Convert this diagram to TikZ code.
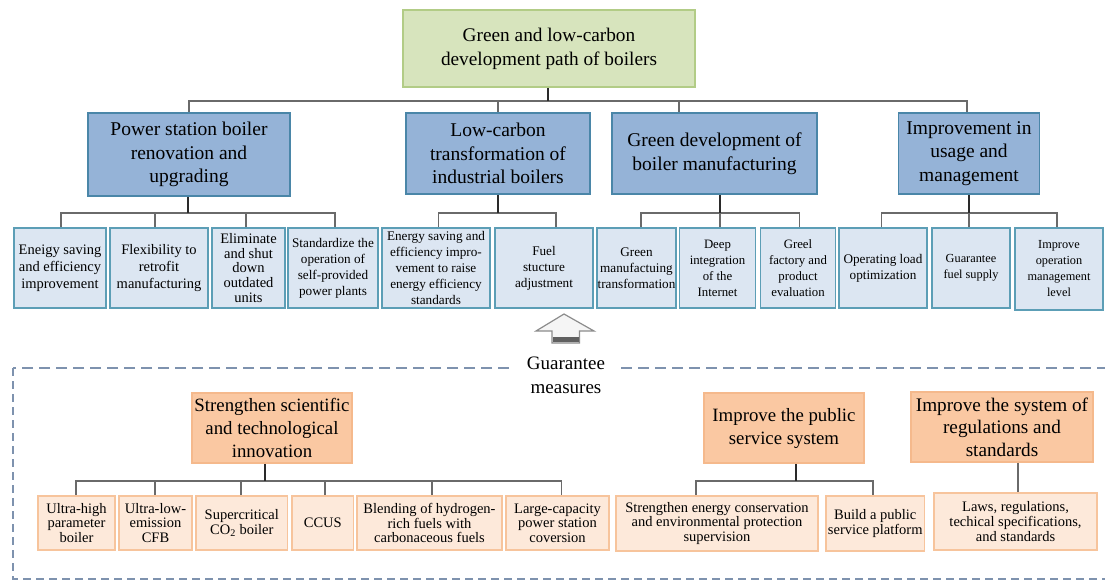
\documentclass[tikz,border=0pt]{standalone}
\usepackage{fontspec}
\setmainfont{Liberation Serif}
\usetikzlibrary{calc}
\definecolor{gfill}{HTML}{D7E4BD}
\definecolor{gdraw}{HTML}{B2CC86}
\definecolor{lonefill}{HTML}{95B3D7}
\definecolor{lonedraw}{HTML}{4A86A8}
\definecolor{ltwofill}{HTML}{DCE6F2}
\definecolor{ltwodraw}{HTML}{5C9EB6}
\definecolor{ofill}{HTML}{FAC8A2}
\definecolor{odraw}{HTML}{F5B98C}
\definecolor{cfill}{HTML}{FDE9DA}
\definecolor{cdraw}{HTML}{F7C49C}
\definecolor{dashc}{HTML}{7E92AE}
\definecolor{connc}{HTML}{6A6A6A}
\definecolor{stubc}{HTML}{2A2A2A}
\newcommand{\myfs}[2]{\fontsize{#1pt}{#2pt}\selectfont}
\tikzset{
 box/.style={draw, line width=1.6pt, align=center, inner sep=0pt, text=black},
 wh/.style 2 args={minimum width=#1pt, minimum height=#2pt},
 topbox/.style={box, fill=gfill, draw=gdraw, font=\myfs{19.3}{24}},
 lone/.style={box, fill=lonefill, draw=lonedraw, font=\myfs{19.5}{23.5}},
 ltwo/.style={box, fill=ltwofill, draw=ltwodraw, line width=1.9pt, font=\myfs{13.2}{16}},
 ohead/.style={box, fill=ofill, draw=odraw, font=\myfs{18.8}{23}},
 ochild/.style={box, fill=cfill, draw=cdraw, font=\myfs{14.5}{14.7}},
 conn/.style={draw=connc, line width=1.6pt},
 stub/.style={draw=stubc, line width=2.2pt},
 dshtop/.style={draw=dashc, line width=2.4pt, dash pattern=on 11pt off 6pt},
 dshside/.style={draw=dashc, line width=2.4pt, dash pattern=on 8pt off 5pt},
}
\begin{document}
\begin{tikzpicture}[x=1pt,y=-1pt]
\useasboundingbox[fill=white] (0,0) rectangle (1105,581);

% top
\node[topbox, wh={292}{77}] (top) at (549,48.5) {Green and low-carbon\\development path of boilers};

% level 1
\node[lone, wh={202}{83}] (A) at (189,154.5) {Power station boiler\\renovation and\\upgrading};
\node[lone, wh={184}{81}] (B) at (498,153.5) {Low-carbon\\transformation of\\industrial boilers};
\node[lone, wh={205}{81}] (C) at (714.5,153.5) {Green development of\\boiler manufacturing};
\node[lone, wh={141}{81}] (D) at (969,153.5) {Improvement in\\usage and\\management};

% level 2
\node[ltwo, wh={92}{80}, font=\myfs{14.5}{17}] (A1) at (60,268) {Eneigy saving\\and efficiency\\improvement};
\node[ltwo, wh={98}{80}, font=\myfs{14.5}{17}] (A2) at (159,268) {Flexibility to\\retrofit\\manufacturing};
\node[ltwo, wh={73}{80}, font=\myfs{14.5}{14.6}] (A3) at (248.5,268) {Eliminate\\and shut\\down\\outdated\\units};
\node[ltwo, wh={90.5}{80}] (A4) at (333,268) {Standardize the\\operation of\\self-provided\\power plants};
\node[ltwo, wh={108}{80}] (B1) at (436,268) {Energy saving and\\efficiency impro-\\vement to raise\\energy efficiency\\standards};
\node[ltwo, wh={98}{80}] (B2) at (544,268) {Fuel\\stucture\\adjustment};
\node[ltwo, wh={79}{80}] (C1) at (636.5,268) {Green\\manufactuing\\transformation};
\node[ltwo, wh={76}{80}, font=\myfs{12.8}{16}] (C2) at (717.5,268) {Deep\\integration\\of the\\Internet};
\node[ltwo, wh={75}{80}, font=\myfs{12.8}{16}] (C3) at (798,268) {Greel\\factory and\\product\\evaluation};
\node[ltwo, wh={88}{80}] (D1) at (883,268) {Operating load\\optimization};
\node[ltwo, wh={78}{80}, font=\myfs{12.3}{16}] (D2) at (971,268) {Guarantee\\fuel supply};
\node[ltwo, wh={88}{82}, font=\myfs{12.3}{16}] (D3) at (1059,269) {Improve\\operation\\management\\level};

% connectors top -> level 1
\coordinate (tbus) at ($(top.south)+(-1,13)$);
\draw[conn] (tbus) -| (A.north);
\draw[conn] (tbus) -| (B.north);
\draw[conn] (tbus) -| ($(C.north west)+(68,0)$);
\draw[conn] (tbus) -| ($(D.north)+(-2,0)$);
\draw[stub] (top.south -| tbus) -- (tbus);

% A group
\coordinate (Abus) at ($(A.south)+(-1,16)$);
\draw[conn] (Abus) -| ($(A1.north)+(1,0)$);
\draw[conn] (Abus) -| ($(A2.north)+(-4,0)$);
\draw[conn] (Abus) -| ($(A3.north)+(-2.5,0)$);
\draw[conn] (Abus) -| ($(A4.north)+(2,0)$);
\draw[stub] (A.south -| Abus) -- (Abus);

% B group
\coordinate (Bbus) at ($(B.south)+(0,18)$);
\draw[conn] (Bbus) -| ($(B1.north)+(2.6,0)$);
\draw[conn] (Bbus) -| ($(B2.north)+(12,0)$);
\draw[stub] (B.south -| Bbus) -- (Bbus);

% C group
\coordinate (Cbus) at ($(C.south)+(5.5,18)$);
\draw[conn] (Cbus) -| ($(C1.north)+(4.5,0)$);
\draw[conn] (Cbus) -| ($(C2.north)+(2.5,0)$);
\draw[conn] (Cbus) -| ($(C3.north)+(1.5,0)$);
\draw[stub] (C.south -| Cbus) -- (Cbus);

% D group
\coordinate (Dbus) at ($(D.south)+(0,18)$);
\draw[conn] (Dbus) -| ($(D1.north)+(-1.4,0)$);
\draw[conn] (Dbus) -| ($(D2.north)+(-2,0)$);
\draw[conn] (Dbus) -| ($(D3.north)+(-2,0)$);
\draw[stub] (D.south -| Dbus) -- (Dbus);

% guarantee arrow and label
\node[font=\myfs{19}{24}, align=center, inner sep=0pt] (gm) at (566,375) {Guarantee\\measures};
\draw[draw=gray!90, fill=gray!8, line width=1.2pt, line join=miter]
  (564,314) -- (594,331) -- (579.5,331) -- (579.5,343) -- (552,343) -- (552,331) -- (536,331) -- cycle;
\fill[gray!75!black] (552.6,337) rectangle (578.9,342.4);

% dashed frame
\draw[dshtop] (509,368) -- (13,368);
\draw[dshtop] (621,368) -- (1105,368);
\draw[dshside] (13,368) -- (13,579) -- (1105,579);

% guarantee headers
\node[ohead, wh={160}{70}] (S1) at (272,428) {Strengthen scientific\\and technological\\innovation};
\node[ohead, wh={160}{70}] (S2) at (784,428) {Improve the public\\service system};
\node[ohead, wh={182}{70}, font=\myfs{19.2}{22.5}] (S3) at (1002,427) {Improve the system of\\regulations and\\standards};

% guarantee children
\node[ochild, wh={77}{54}] (c1) at (76.5,523) {Ultra-high\\parameter\\boiler};
\node[ochild, wh={73}{54}] (c2) at (155.5,523) {Ultra-low-\\emission\\CFB};
\node[ochild, wh={91.5}{54}] (c3) at (241.75,523) {Supercritical\\CO\textsubscript{2} boiler};
\node[ochild, wh={61.6}{54}] (c4) at (322.8,523) {CCUS};
\node[ochild, wh={145}{54}] (c5) at (429.5,523) {Blending of hydrogen-\\rich fuels with\\carbonaceous fuels};
\node[ochild, wh={103}{54}] (c6) at (557.5,523) {Large-capacity\\power station\\coversion};
\node[ochild, wh={202}{55}] (d1) at (717,523.5) {Strengthen energy conservation\\and environmental protection\\supervision};
\node[ochild, wh={98.5}{55}] (d2) at (875.25,523.5) {Build a public\\service platform};
\node[ochild, wh={163}{57}] (e1) at (1015.5,521.5) {Laws, regulations,\\techical specifications,\\and standards};

% S1 group
\coordinate (S1bus) at ($(S1.south)+(-7,17)$);
\draw[conn] (S1bus) -| ($(c1.north)+(-0.5,0)$);
\draw[conn] (S1bus) -| ($(c2.north)+(-0.5,0)$);
\draw[conn] (S1bus) -| ($(c3.north)+(-0.75,0)$);
\draw[conn] (S1bus) -| ($(c4.north)+(2,0)$);
\draw[conn] (S1bus) -| ($(c5.north)+(2.5,0)$);
\draw[conn] (S1bus) -| ($(c6.north)+(4,0)$);
\draw[stub] (S1.south -| S1bus) -- (S1bus);

% S2 group
\coordinate (S2bus) at ($(S2.south)+(12,17)$);
\draw[conn] (S2bus) -| ($(d1.north)+(-21,0)$);
\draw[conn] (S2bus) -| ($(d2.north)+(-2,0)$);
\draw[stub] (S2.south -| S2bus) -- (S2bus);

% S3
\draw[conn] ($(S3.south)+(16,0)$) -- ($(e1.north)+(2.5,0)$);
\end{tikzpicture}
\end{document}
